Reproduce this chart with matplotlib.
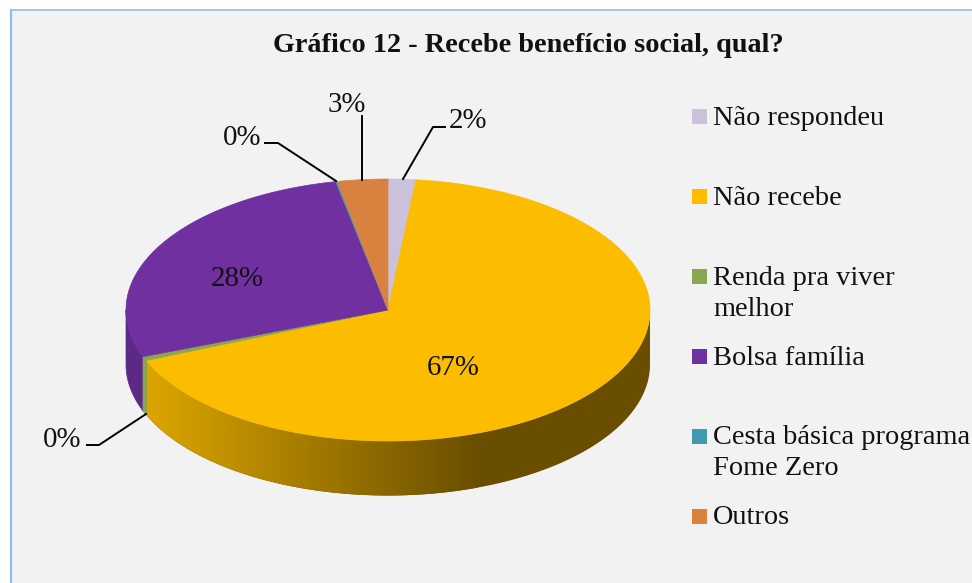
import numpy as np
import matplotlib
matplotlib.use('Agg')
import matplotlib.pyplot as plt
from matplotlib.colors import LinearSegmentedColormap
from matplotlib.patches import Polygon, Rectangle

# Slices clockwise from 12 o'clock
categories = ['Não respondeu', 'Não recebe', 'Renda pra viver\nmelhor',
              'Bolsa família', 'Cesta básica programa\nFome Zero', 'Outros']
values = [1.7, 67.0, 0.5, 27.6, 0.1, 3.1]
colors = ['#ccc1da', '#fcbd00', '#8ba650', '#7030a0', '#4198af', '#d98240']
side_colors = ['#a89fb5', '#d9a300', '#8ba650', '#5a2a85', '#347f8f', '#b06a33']
pct_labels = ['2%', '67%', '0%', '28%', '0%', '3%']

# pie geometry in pixels
cx, cy = 388, 310
rx, ry = 262, 131
depth = 54.5

plt.rcParams['font.family'] = ['Liberation Serif', 'DejaVu Serif']

fig = plt.figure(figsize=(9.72, 5.83), dpi=100, facecolor='white')
ax = fig.add_axes([0, 0, 1, 1])
ax.axis('off')

# chart area and its blue border (right and bottom run off the picture)
ax.add_patch(Rectangle((11, 9.5), 975, 580, fc='#f2f2f2', ec='none', zorder=0))
ax.plot([11, 11], [9.5, 583], color='#95bcea', lw=1.6, zorder=1)
ax.plot([11, 972], [9.5, 9.5], color='#95bcea', lw=1.2, zorder=1)


def rim(t):
    return cx + rx * np.sin(t), cy - ry * np.cos(t)


edges = np.radians(np.concatenate([[0], np.cumsum(values)]) * 3.6)
wall_cmap = LinearSegmentedColormap.from_list('wall', ['#dca600', '#6a4e00'])

# side wall, only the front half (t between 90 and 270 degrees) is visible
for i in range(len(values)):
    lo, hi = max(edges[i], np.pi / 2), min(edges[i + 1], 3 * np.pi / 2)
    if hi <= lo:
        continue
    xs, ys = rim(np.linspace(lo, hi, 300))
    pts = np.column_stack([np.r_[xs, xs[::-1]], np.r_[ys, ys[::-1] + depth]])
    if i == 1:
        # light at the left end, dark from about x=475 on to the right
        clip = Polygon(pts, fc='#6a4e00', ec='none', zorder=1.5)
        ax.add_patch(clip)
        grad = np.linspace(0, 1, 330).reshape(1, -1)
        im = ax.imshow(grad, cmap=wall_cmap, extent=(147, 477, 500, 350),
                       aspect='auto', zorder=2)
        im.set_clip_path(clip)
    elif i == 2:
        # thin green slice, its cut face sits on top of the neighbours
        ax.add_patch(Polygon(pts, fc=side_colors[i], ec=side_colors[i], lw=0.8, zorder=3))
    else:
        ax.add_patch(Polygon(pts, fc=side_colors[i], ec=side_colors[i], lw=0.5, zorder=2))

ax.set_xlim(0, 972)
ax.set_ylim(583, 0)

# top faces
for i in range(len(values)):
    xs, ys = rim(np.linspace(edges[i], edges[i + 1], 300))
    pts = np.column_stack([np.r_[cx, xs], np.r_[cy, ys]])
    ax.add_patch(Polygon(pts, fc=colors[i], ec=colors[i], lw=0.5, zorder=4))

# percent labels
label_pos = [(468, 121), (453, 368), (62, 440), (237, 279), (242, 138), (347, 105)]
for s, (lx, ly) in zip(pct_labels, label_pos):
    ax.text(lx, ly, s, fontsize=20.8, color='#111111', ha='center', va='center', zorder=6)

# leader lines
leaders = [
    [(403, 179), (433, 127), (445, 127)],
    [(146, 414), (99, 445), (87, 445)],
    [(336, 181), (278, 143), (265, 143)],
    [(362, 180), (362, 116)],
]
for line in leaders:
    ax.plot(*zip(*line), color='black', lw=1.4, zorder=5)

# legend
legend_y = [116, 196, 276, 356, 435.5, 515.5]
for name, col, ly in zip(categories, colors, legend_y):
    ax.add_patch(Rectangle((692, ly - 7), 15, 15, fc=col, ec='none', zorder=5))
    ax.text(713, ly - 10, name, fontsize=20.4, color='#111111', ha='left', va='top',
            linespacing=1.3, zorder=6)

ax.text(528, 46, 'Gráfico 12 - Recebe benefício social, qual?', fontsize=20.3,
        fontweight='bold', color='#111111', ha='center', va='center', zorder=6)

fig.savefig('out.png', dpi=100, facecolor=fig.get_facecolor())
